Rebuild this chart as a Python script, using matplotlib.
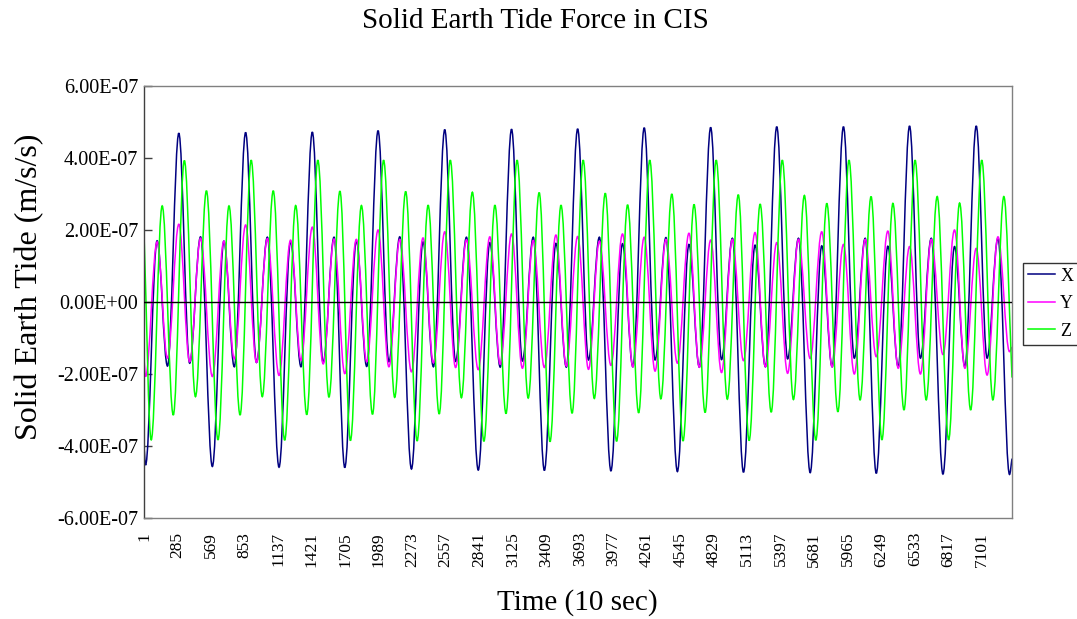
import matplotlib
matplotlib.use("Agg")
import matplotlib.pyplot as plt
from matplotlib.ticker import FixedLocator, FuncFormatter
from matplotlib.path import Path
from matplotlib.patches import PathPatch
from matplotlib.lines import Line2D

plt.rcParams['font.family'] = ['Liberation Serif', 'DejaVu Serif']

# ---- data (values in 1e-7 m/s/s, time in steps of 10 s) ----
# time index of each large X maximum (one per orbit)
orbit_peak_t = [296, 862, 1427, 1984, 2549, 3115, 3675, 4239, 4802, 5362, 5927, 6487, 7052]
# times of the six X / Y extrema of an orbit, relative to the large X maximum
xy_offsets = [-282, -184, -96, 0, 92, 184]
# times of the six Z extrema of an orbit, relative to the large X maximum
z_offsets = [-234, -141, -47, 47, 141, 234]

t_start = 1
t_end = 7355
t_final_trough = 7334

# X extrema per orbit
x_T = [-4.53, -4.57, -4.59, -4.60, -4.64, -4.67, -4.68, -4.69, -4.71, -4.73, -4.74, -4.76, -4.78]
x_A = [1.70, 1.69, 1.68, 1.70, 1.67, 1.65, 1.63, 1.62, 1.60, 1.58, 1.56, 1.55, 1.54]
x_B = [-1.78, -1.80, -1.80, -1.79, -1.80, -1.81, -1.81, -1.80, -1.81, -1.80, -1.80, -1.80, -1.80]
x_P = [4.69, 4.71, 4.72, 4.76, 4.79, 4.80, 4.81, 4.84, 4.85, 4.87, 4.87, 4.89, 4.89]
x_C = [-1.70, -1.68, -1.68, -1.66, -1.65, -1.64, -1.61, -1.61, -1.60, -1.58, -1.56, -1.56, -1.56]
x_D = [1.81, 1.80, 1.80, 1.81, 1.80, 1.80, 1.80, 1.79, 1.77, 1.77, 1.77, 1.77, 1.77]
x_first, x_final_trough, x_last = -4.00, -4.79, -4.35

# Y extrema per orbit
y_T = [-2.07, -2.07, -2.04, -1.99, -1.94, -1.88, -1.82, -1.76, -1.70, -1.63, -1.57, -1.52, -1.46]
y_A = [1.67, 1.69, 1.72, 1.74, 1.78, 1.81, 1.86, 1.89, 1.91, 1.93, 1.95, 1.97, 2.00]
y_B = [-1.56, -1.58, -1.62, -1.66, -1.69, -1.73, -1.78, -1.80, -1.81, -1.80, -1.80, -1.84, -1.84]
y_P = [2.16, 2.14, 2.08, 2.00, 1.95, 1.89, 1.82, 1.80, 1.72, 1.65, 1.60, 1.54, 1.49]
y_C = [-1.66, -1.68, -1.72, -1.80, -1.82, -1.84, -1.87, -1.92, -1.96, -1.98, -2.00, -2.00, -2.03]
y_D = [1.77, 1.76, 1.75, 1.74, 1.73, 1.71, 1.69, 1.74, 1.74, 1.74, 1.74, 1.74, 1.81]
y_first, y_final_trough, y_last = -1.56, -1.38, -1.25

# Z extrema per orbit
z_T1 = [-3.83, -3.83, -3.84, -3.85, -3.86, -3.87, -3.88, -3.87, -3.86, -3.85, -3.84, -3.83, -3.83]
z_P1 = [2.67, 2.67, 2.68, 2.68, 2.69, 2.69, 2.69, 2.70, 2.71, 2.72, 2.74, 2.74, 2.75]
z_T2 = [-3.14, -3.14, -3.13, -3.12, -3.11, -3.10, -3.09, -3.08, -3.07, -3.06, -3.05, -3.00, -3.00]
z_P2 = [3.93, 3.94, 3.94, 3.94, 3.94, 3.94, 3.94, 3.94, 3.94, 3.94, 3.94, 3.94, 3.94]
z_T3 = [-2.63, -2.63, -2.64, -2.65, -2.66, -2.67, -2.68, -2.69, -2.70, -2.71, -2.72, -2.72, -2.72]
z_P3 = [3.09, 3.09, 3.08, 3.07, 3.05, 3.04, 3.02, 3.00, 2.98, 2.96, 2.93, 2.93, 2.93]
z_first, z_last = 1.90, -2.10

x_tick_labels = [1, 285, 569, 853, 1137, 1421, 1705, 1989, 2273, 2557, 2841, 3125, 3409,
                 3693, 3977, 4261, 4545, 4829, 5113, 5397, 5681, 5965, 6249, 6533, 6817, 7101]
y_ticks = [-6e-7, -4e-7, -2e-7, 0.0, 2e-7, 4e-7, 6e-7]
series_names = ['X', 'Y', 'Z']
series_colors = ['#000080', '#FF00FF', '#00FF00']
SCALE = 1e-7


def assemble(offsets, columns, first, last, extra=None):
    t = [t_start]
    v = [first]
    for k, p in enumerate(orbit_peak_t):
        for off, col in zip(offsets, columns):
            t.append(p + off)
            v.append(col[k])
    if extra is not None:
        t.append(extra[0])
        v.append(extra[1])
    t.append(t_end)
    v.append(last)
    return t, [val * SCALE for val in v]


def smooth_path(t, v, h=0.3642):
    """Smoothed line through the read extrema (horizontal tangent at each extremum)."""
    verts = [(t[0], v[0])]
    codes = [Path.MOVETO]
    n = len(t)
    for i in range(n - 1):
        t0, v0, t1, v1 = t[i], v[i], t[i + 1], v[i + 1]
        dt = t1 - t0
        if i == 0:
            c1 = (t0 + h * dt, v0 + h * (v1 - v0))
        else:
            c1 = (t0 + h * dt, v0)
        if i == n - 2:
            c2 = (t1 - h * dt, v1 - h * (v1 - v0))
        else:
            c2 = (t1 - h * dt, v1)
        verts += [c1, c2, (t1, v1)]
        codes += [Path.CURVE4, Path.CURVE4, Path.CURVE4]
    return Path(verts, codes)


tX, vX = assemble(xy_offsets, [x_T, x_A, x_B, x_P, x_C, x_D], x_first, x_last,
                  (t_final_trough, x_final_trough))
tY, vY = assemble(xy_offsets, [y_T, y_A, y_B, y_P, y_C, y_D], y_first, y_last,
                  (t_final_trough, y_final_trough))
tZ, vZ = assemble(z_offsets, [z_T1, z_P1, z_T2, z_P2, z_T3, z_P3], z_first, z_last)

W, H = 1077, 619
fig = plt.figure(figsize=(W / 100, H / 100), dpi=100)
L, R, T, B = 144, 1012, 86, 518
ax = fig.add_axes([L / W, 1 - B / H, (R - L) / W, (B - T) / H])

LW = 1.1
handles = []
for (t, v), name, col, z in zip([(tX, vX), (tY, vY), (tZ, vZ)], series_names,
                                series_colors, [2.0, 2.1, 2.2]):
    patch = PathPatch(smooth_path(t, v), facecolor='none', edgecolor=col, lw=LW,
                      transform=ax.transData, zorder=z)
    ax.add_patch(patch)
    handles.append(Line2D([], [], color=col, lw=LW, label=name))

ax.axhline(0, color='black', lw=1.0, zorder=4)

ax.set_xlim(t_start, t_end)
ax.set_ylim(-6e-7, 6e-7)
ax.yaxis.set_major_locator(FixedLocator(y_ticks))
ax.yaxis.set_major_formatter(FuncFormatter(lambda v, p: '%.2E' % v))
ax.set_xticks(x_tick_labels)
ax.set_xticklabels([str(v) for v in x_tick_labels], rotation=90, va='top', ha='center')

for s in ax.spines.values():
    s.set_color('#808080')
    s.set_linewidth(1.0)
ax.spines['left'].set_color('#404040')

ax.tick_params(axis='y', direction='in', length=6, width=1, color='#404040',
               labelsize=14.5, pad=4, labelcolor='black')
ax.tick_params(axis='x', length=0, labelsize=12.5, pad=10, labelcolor='black')

fig.text(535 / W, 1 - 21 / H, 'Solid Earth Tide Force in CIS', ha='center', va='center',
         fontsize=21)
fig.text(30 / W, 1 - 287 / H, 'Solid Earth Tide (m/s/s)', ha='center', va='center',
         rotation=90, fontsize=23)
fig.text(577 / W, 1 - 603 / H, 'Time (10 sec)', ha='center', va='center', fontsize=21)

leg = fig.legend(handles=handles, loc='upper left', bbox_to_anchor=(1022.7 / W, 1 - 262.5 / H),
                 fontsize=13, frameon=True, fancybox=False, shadow=False,
                 handlelength=1.5, handletextpad=0.3, borderpad=0.28, labelspacing=0.58,
                 borderaxespad=0)
leg.get_frame().set_edgecolor('black')
leg.get_frame().set_linewidth(1.0)

fig.savefig('out.png', dpi=100)
